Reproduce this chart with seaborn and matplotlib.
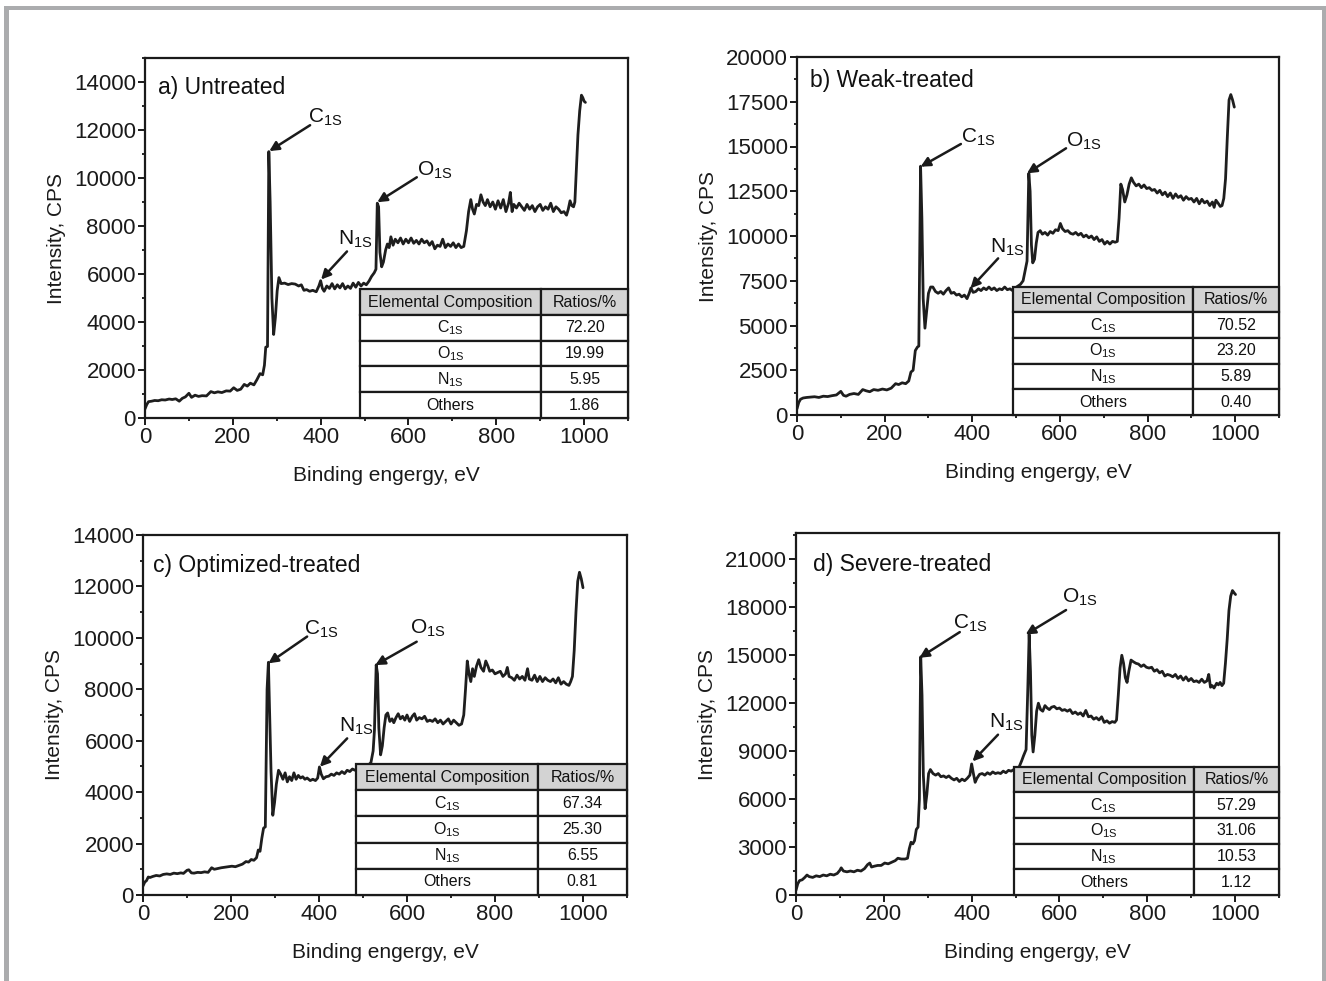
import matplotlib
matplotlib.use("Agg")
import matplotlib.pyplot as plt
import seaborn as sns
import pandas as pd
from matplotlib.patches import Rectangle
from matplotlib.ticker import MultipleLocator

# ---------------- data ----------------
spec_a = [(0, 380), (4, 560), (8, 680), (15, 700), (22, 730), (30, 720), (38, 760), (46, 750), (55, 790), (62, 770),
          (70, 800), (78, 700), (85, 820), (92, 880), (100, 1030), (106, 860), (114, 950), (122, 900), (130, 930),
          (140, 920), (150, 1100), (158, 1050), (166, 1090), (175, 1060), (185, 1130), (194, 1120), (202, 1260),
          (210, 1150), (218, 1200), (226, 1400), (233, 1330), (240, 1450), (248, 1380), (255, 1600), (262, 1850),
          (268, 1800), (272, 2200), (275, 2950), (279, 2980), (282, 11100), (285, 9000), (289, 5000), (293, 3480),
          (297, 4200), (301, 5300), (305, 5850), (310, 5600), (318, 5620), (326, 5560), (334, 5600), (342, 5580),
          (350, 5500), (356, 5550), (362, 5320), (368, 5350), (375, 5280), (382, 5320), (390, 5260), (396, 5500),
          (400, 5720), (404, 5400), (408, 5280), (414, 5500), (420, 5400), (426, 5600), (432, 5380), (438, 5550),
          (444, 5420), (450, 5600), (456, 5380), (462, 5500), (468, 5400), (474, 5620), (480, 5450), (486, 5650),
          (492, 5500), (498, 5620), (504, 5550), (510, 5700), (516, 5900), (522, 6050), (526, 6200), (529, 8950),
          (532, 8800), (535, 6900), (539, 6300), (543, 6500), (548, 7000), (552, 7250), (556, 7100), (560, 7550),
          (565, 7200), (570, 7450), (576, 7300), (582, 7500), (588, 7250), (594, 7450), (600, 7300), (606, 7500),
          (612, 7280), (618, 7400), (624, 7250), (630, 7450), (636, 7300), (642, 7380), (648, 7200), (654, 7350),
          (660, 7050), (666, 7200), (672, 7150), (678, 7450), (684, 7100), (690, 7250), (696, 7150), (702, 7300),
          (708, 7100), (714, 7250), (720, 7100), (726, 7150), (732, 7800), (737, 8600), (742, 9100), (746, 8700),
          (750, 8500), (755, 8900), (760, 8850), (765, 9300), (770, 9000), (775, 8850), (780, 9100), (786, 8800),
          (792, 9000), (798, 8700), (804, 9050), (810, 8750), (816, 9100), (822, 8600), (828, 8950), (832, 9400),
          (836, 8600), (840, 8900), (846, 8750), (852, 8950), (858, 8800), (864, 8650), (870, 8900), (876, 8700),
          (882, 8850), (888, 8600), (894, 8800), (900, 8900), (906, 8650), (912, 8800), (918, 8700), (924, 8950),
          (930, 8600), (936, 8800), (942, 8700), (948, 8550), (954, 8600), (960, 8450), (964, 8700), (968, 9050),
          (972, 8850), (976, 8800), (979, 9000), (982, 10200), (986, 11800), (990, 12800), (994, 13450),
          (997, 13350), (1000, 13200), (1003, 13150)]

spec_b = [(0, 350), (4, 700), (8, 880), (14, 950), (22, 980), (30, 1000), (40, 1020), (50, 980), (60, 1050),
          (70, 1030), (80, 1080), (90, 1120), (100, 1320), (106, 1100), (112, 1050), (120, 1150), (130, 1200),
          (140, 1150), (150, 1420), (158, 1350), (166, 1300), (175, 1420), (185, 1380), (195, 1450), (205, 1400),
          (215, 1500), (225, 1750), (232, 1700), (240, 1800), (248, 1750), (255, 1900), (260, 2400), (265, 2500),
          (270, 3600), (275, 3800), (278, 3850), (282, 13900), (285, 11000), (288, 6500), (292, 4850), (296, 5800),
          (300, 6800), (305, 7150), (310, 7150), (316, 6900), (322, 6800), (328, 6900), (334, 6750), (340, 6950),
          (346, 7100), (352, 6800), (358, 6850), (364, 6700), (370, 6750), (376, 6600), (382, 6700), (388, 6500),
          (393, 6800), (397, 7100), (402, 6850), (408, 6900), (414, 7050), (420, 6950), (426, 7100), (432, 7000),
          (438, 7150), (444, 7000), (450, 7100), (456, 6950), (462, 7050), (468, 7000), (474, 7150), (480, 7000),
          (486, 7050), (492, 6950), (498, 7100), (504, 7200), (510, 7300), (516, 7500), (521, 8100), (525, 8600),
          (529, 13500), (532, 12500), (535, 9500), (538, 8500), (542, 8700), (546, 9600), (550, 10200),
          (555, 10300), (560, 10100), (566, 10200), (572, 10050), (578, 10250), (584, 10150), (590, 10350),
          (596, 10300), (601, 10700), (606, 10400), (612, 10250), (618, 10300), (624, 10150), (630, 10100),
          (636, 10200), (642, 10050), (648, 10150), (654, 9950), (660, 10050), (666, 9900), (672, 10000),
          (678, 9800), (684, 9950), (690, 9700), (696, 9800), (702, 9550), (708, 9700), (714, 9550), (720, 9700),
          (726, 9650), (731, 9700), (735, 11000), (739, 12900), (743, 12600), (748, 11900), (753, 12300),
          (758, 12900), (763, 13250), (768, 13000), (774, 12800), (780, 12900), (786, 12700), (792, 12850),
          (798, 12650), (804, 12700), (810, 12550), (816, 12600), (822, 12400), (828, 12550), (834, 12300),
          (840, 12450), (846, 12200), (852, 12400), (858, 12100), (864, 12350), (870, 12150), (876, 12250),
          (882, 12000), (888, 12200), (894, 12050), (900, 12100), (906, 11900), (912, 12100), (918, 11800),
          (924, 12050), (930, 11850), (936, 11950), (942, 11700), (948, 11900), (952, 11600), (956, 12000),
          (962, 11800), (966, 11650), (970, 11700), (974, 12100), (978, 13200), (982, 15500), (986, 17600),
          (990, 17900), (994, 17600), (998, 17200)]

spec_c = [(0, 350), (4, 500), (8, 560), (12, 700), (16, 680), (22, 720), (30, 760), (38, 740), (46, 800), (54, 820),
          (62, 800), (70, 850), (78, 830), (86, 860), (92, 840), (100, 960), (104, 980), (110, 860), (116, 850),
          (124, 880), (132, 870), (140, 900), (148, 880), (156, 1060), (162, 1000), (170, 1030), (178, 1060),
          (186, 1080), (194, 1100), (202, 1120), (210, 1100), (218, 1150), (226, 1200), (234, 1300), (240, 1280),
          (246, 1380), (252, 1350), (258, 1450), (262, 1750), (266, 1700), (270, 2200), (274, 2600), (278, 2650),
          (282, 8000), (285, 9050), (288, 7000), (291, 4800), (295, 3100), (299, 3600), (303, 4300), (308, 4850),
          (313, 4700), (318, 4500), (323, 4750), (328, 4400), (333, 4600), (338, 4450), (343, 4750), (348, 4500),
          (353, 4650), (358, 4550), (363, 4600), (368, 4500), (373, 4550), (380, 4450), (386, 4500), (392, 4450),
          (397, 4550), (401, 4980), (405, 4700), (410, 4520), (416, 4600), (422, 4620), (428, 4700), (434, 4650),
          (440, 4750), (446, 4700), (452, 4800), (458, 4720), (464, 4850), (470, 4800), (476, 4900), (482, 4850),
          (488, 4950), (494, 4880), (500, 5000), (506, 4950), (512, 5050), (518, 5150), (523, 5600), (526, 6400),
          (530, 8950), (533, 8600), (536, 6500), (540, 5450), (544, 5800), (548, 6500), (552, 7000), (556, 7080),
          (561, 6750), (566, 6850), (570, 6700), (575, 6900), (580, 7050), (585, 6850), (590, 6950), (595, 6800),
          (600, 7000), (606, 6750), (612, 6950), (617, 7050), (622, 6800), (628, 6900), (634, 6850), (640, 6950),
          (646, 6750), (652, 6800), (658, 6750), (664, 6850), (670, 6700), (676, 6800), (682, 6650), (688, 6750),
          (694, 6850), (700, 6650), (706, 6800), (712, 6700), (718, 6600), (724, 6650), (729, 7000), (733, 8000),
          (737, 9100), (741, 8600), (745, 8300), (749, 8800), (753, 8500), (758, 8900), (763, 9150), (768, 8850),
          (774, 8700), (779, 9100), (784, 8900), (788, 8700), (794, 8750), (800, 8600), (806, 8650), (812, 8700),
          (818, 8500), (824, 8600), (828, 8850), (832, 8500), (838, 8450), (844, 8350), (850, 8550), (856, 8400),
          (862, 8500), (868, 8350), (874, 8800), (878, 8400), (884, 8350), (890, 8550), (896, 8300), (902, 8500),
          (908, 8300), (914, 8450), (920, 8350), (926, 8300), (932, 8400), (938, 8250), (944, 8450), (950, 8200),
          (956, 8300), (962, 8200), (968, 8150), (972, 8300), (976, 8500), (980, 9500), (984, 11000), (988, 12200),
          (992, 12550), (996, 12300), (1000, 11950)]

spec_d = [(0, 300), (4, 700), (8, 900), (14, 950), (20, 1100), (25, 1250), (30, 1150), (38, 1100), (46, 1200),
          (54, 1150), (62, 1250), (70, 1200), (78, 1300), (86, 1250), (94, 1350), (100, 1550), (103, 1700),
          (108, 1500), (116, 1450), (124, 1500), (132, 1450), (140, 1550), (148, 1500), (156, 1650), (163, 1900),
          (168, 2000), (172, 1750), (178, 1800), (186, 1850), (194, 1850), (202, 2000), (210, 1950), (218, 2050),
          (226, 2150), (232, 2300), (240, 2250), (248, 2250), (254, 2300), (258, 2900), (262, 3300), (266, 3200),
          (270, 3400), (274, 4100), (278, 4250), (281, 6000), (284, 14900), (287, 12500), (290, 7500), (294, 5400),
          (298, 6300), (302, 7600), (306, 7850), (312, 7600), (318, 7500), (324, 7600), (330, 7400), (336, 7450),
          (342, 7350), (348, 7450), (354, 7300), (360, 7200), (366, 7300), (372, 7100), (378, 7250), (384, 7150),
          (390, 7300), (396, 7500), (400, 8200), (404, 7600), (408, 7050), (412, 7300), (418, 7550), (424, 7600),
          (430, 7500), (436, 7650), (442, 7550), (448, 7700), (454, 7600), (460, 7650), (466, 7600), (472, 7750),
          (478, 7650), (484, 7800), (490, 7750), (496, 7850), (502, 7900), (508, 8000), (514, 8400), (518, 8700),
          (524, 9100), (528, 13000), (531, 16300), (534, 14000), (537, 10000), (540, 8950), (544, 10000),
          (548, 11500), (552, 12000), (557, 11600), (562, 11500), (567, 11850), (572, 11700), (577, 11600),
          (582, 11750), (588, 11800), (594, 11650), (600, 11700), (606, 11550), (612, 11600), (618, 11500),
          (624, 11600), (630, 11350), (636, 11450), (642, 11300), (648, 11400), (654, 11200), (660, 11550),
          (666, 11150), (672, 11200), (678, 11000), (684, 11100), (690, 10950), (696, 11150), (702, 10800),
          (708, 10900), (714, 10750), (720, 10850), (726, 10800), (730, 10950), (734, 12500), (738, 14200),
          (742, 15000), (746, 14500), (750, 13600), (754, 13300), (758, 14000), (763, 14700), (768, 14600),
          (774, 14500), (780, 14450), (786, 14300), (792, 14400), (798, 14250), (804, 14200), (810, 14250),
          (816, 14000), (822, 14100), (828, 13900), (834, 14000), (840, 13700), (846, 13800), (852, 13750),
          (858, 13650), (864, 13800), (870, 13550), (876, 13700), (882, 13450), (888, 13650), (894, 13400),
          (900, 13550), (906, 13350), (912, 13400), (918, 13300), (924, 13500), (930, 13300), (936, 13400),
          (940, 13800), (944, 13000), (948, 13100), (952, 12950), (958, 13250), (962, 13150), (966, 13300),
          (970, 13100), (974, 13250), (978, 14500), (982, 16000), (986, 17800), (990, 18700), (994, 19050),
          (998, 18900), (1001, 18800)]

titles = ["a) Untreated", "b) Weak-treated", "c) Optimized-treated", "d) Severe-treated"]
table_header = ["Elemental Composition", "Ratios/%"]
table_elements = ["C$_{\\mathregular{1S}}$", "O$_{\\mathregular{1S}}$", "N$_{\\mathregular{1S}}$", "Others"]
ratios_a = ["72.20", "19.99", "5.95", "1.86"]
ratios_b = ["70.52", "23.20", "5.89", "0.40"]
ratios_c = ["67.34", "25.30", "6.55", "0.81"]
ratios_d = ["57.29", "31.06", "10.53", "1.12"]
peak_labels = ["C", "O", "N"]
# (text xy, arrow tail, arrow head) in data units
notes_a = [((371, 12080), (376, 12200), (283, 11120)),
           ((619, 9865), (619, 10030), (529, 8990)),
           ((440, 7020), (460, 6940), (401, 5770))]
notes_b = [((375, 14900), (374, 15140), (282, 13870)),
           ((614, 14710), (614, 14900), (525, 13500)),
           ((440, 8750), (459, 8750), (396, 7080))]
notes_c = [((365, 9920), (373, 10050), (285, 9010)),
           ((607, 9940), (622, 9850), (528, 8940)),
           ((446, 6160), (464, 6090), (402, 4990))]
notes_d = [((358, 16360), (373, 16450), (281, 14840)),
           ((605, 17970), (615, 17830), (523, 16300)),
           ((440, 10130), (460, 10030), (402, 8360))]

# ---------------- style ----------------
sns.set_style("ticks")
plt.rcParams['font.family'] = ['Liberation Sans', 'DejaVu Sans']
plt.rcParams['mathtext.fontset'] = 'custom'
plt.rcParams['mathtext.rm'] = 'Liberation Sans'
plt.rcParams['mathtext.it'] = 'Liberation Sans'
plt.rcParams['mathtext.default'] = 'regular'

W, H = 1326, 981
fig = plt.figure(figsize=(W / 100, H / 100), dpi=100)
fig.patch.set_facecolor('white')

def px_axes(l, t, r, b):
    return [l / W, 1 - b / H, (r - l) / W, (b - t) / H]

panels = [
    dict(spec=spec_a, rect=px_axes(145, 58, 628, 418), ylim=15000, ystep=2000, ratios=ratios_a, notes=notes_a,
         tpos=(0.027, 0.919), tab=(0.445, 0.358, 0.820)),
    dict(spec=spec_b, rect=px_axes(797, 57, 1279, 415), ylim=20000, ystep=2500, ratios=ratios_b, notes=notes_b,
         tpos=(0.027, 0.933), tab=(0.448, 0.358, 0.822)),
    dict(spec=spec_c, rect=px_axes(143, 535, 627, 895), ylim=14000, ystep=2000, ratios=ratios_c, notes=notes_c,
         tpos=(0.021, 0.914), tab=(0.440, 0.364, 0.816)),
    dict(spec=spec_d, rect=px_axes(796, 533, 1279, 895), ylim=22650, ystep=3000, ratios=ratios_d, notes=notes_d,
         tpos=(0.035, 0.914), tab=(0.451, 0.354, 0.824)),
]

line_color = '#1e1e1e'
for i, p in enumerate(panels):
    ax = fig.add_axes(p['rect'])
    df = pd.DataFrame(p['spec'], columns=['energy', 'intensity'])
    sns.lineplot(data=df, x='energy', y='intensity', ax=ax, color=line_color, lw=2.0, zorder=2)
    ax.set_xlim(0, 1100)
    ax.set_ylim(0, p['ylim'])
    ax.xaxis.set_major_locator(MultipleLocator(200))
    ax.xaxis.set_minor_locator(MultipleLocator(100))
    ax.yaxis.set_major_locator(MultipleLocator(p['ystep']))
    ax.yaxis.set_minor_locator(MultipleLocator(p['ystep'] / 2))
    ax.tick_params(which='major', direction='out', length=5, width=1.4, labelsize=16, pad=1.5, colors='#1a1a1a')
    ax.tick_params(which='minor', direction='out', length=2.5, width=1.4)
    for sp in ax.spines.values():
        sp.set_visible(True)
        sp.set_linewidth(1.6)
        sp.set_color('#1a1a1a')
    ax.set_xlabel("Binding engergy, eV", fontsize=15, labelpad=13, color='#1a1a1a')
    ax.set_ylabel("Intensity, CPS", fontsize=15, labelpad=6, color='#1a1a1a')
    ax.text(p['tpos'][0], p['tpos'][1], titles[i], transform=ax.transAxes, fontsize=16.5,
            ha='left', va='center', color='#111111')

    for lab, (txy, tail, head) in zip(peak_labels, p['notes']):
        ax.text(txy[0], txy[1], lab + "$_{\\mathregular{1S}}$", fontsize=15, ha='left', va='bottom',
                color='#111111')
        ax.annotate('', xy=head, xytext=tail,
                    arrowprops=dict(arrowstyle='-|>', lw=1.8, color='#1a1a1a', mutation_scale=14,
                                    shrinkA=0, shrinkB=0))

    tl, tt, td = p['tab']
    cell_text = [[e, r] for e, r in zip(table_elements, p['ratios'])]
    tb = ax.table(cellText=cell_text, colLabels=table_header, cellLoc='center',
                  colWidths=[td - tl, 1 - td], bbox=[tl, 0, 1 - tl, tt], zorder=5)
    tb.auto_set_font_size(False)
    for (r, c), cell in tb.get_celld().items():
        cell.set_linewidth(1.6)
        cell.set_edgecolor('#1a1a1a')
        cell.get_text().set_fontsize(11.5)
        cell.get_text().set_color('#111111')
        if r == 0:
            cell.set_facecolor('#d3d3d3')
        else:
            cell.set_facecolor('white')

# gray frame around the figure
frame_col = '#abacae'
fig.add_artist(Rectangle((4 / W, 0), 5 / W, 1 - 6 / H, transform=fig.transFigure, color=frame_col, lw=0))
fig.add_artist(Rectangle((4 / W, 1 - 10 / H), 1 - 4 / W, 4 / H, transform=fig.transFigure, color=frame_col, lw=0))
fig.add_artist(Rectangle((1322 / W, 0), 4 / W, 1 - 6 / H, transform=fig.transFigure, color=frame_col, lw=0))

fig.savefig("out.png", dpi=100)
